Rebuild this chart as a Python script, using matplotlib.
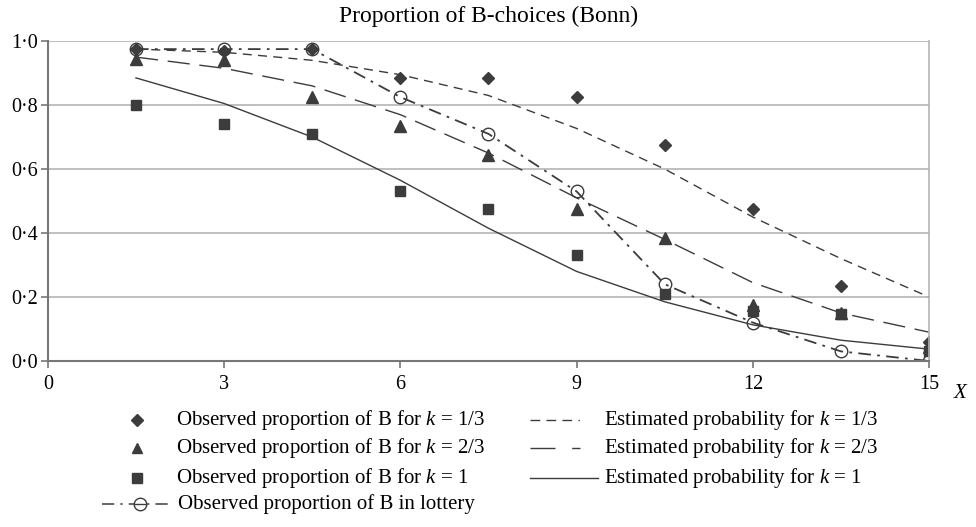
import numpy as np
import matplotlib.pyplot as plt
from matplotlib.lines import Line2D

# valores de X
x = [1.5, 3, 4.5, 6, 7.5, 9, 10.5, 12, 13.5, 15]

# proporciones observadas
obs_k13 = [0.975, 0.97, 0.975, 0.885, 0.885, 0.825, 0.675, 0.475, 0.235, 0.06]
obs_k23 = [0.945, 0.94, 0.825, 0.735, 0.645, 0.475, 0.385, 0.175, 0.15, 0.045]
obs_k1 = [0.80, 0.74, 0.71, 0.53, 0.475, 0.33, 0.21, 0.155, 0.147, 0.03]
obs_lot = [0.975, 0.975, 0.975, 0.825, 0.71, 0.53, 0.24, 0.12, 0.03, 0.0]

# probabilidades estimadas
est_k13 = [0.975, 0.965, 0.94, 0.895, 0.83, 0.727, 0.60, 0.45, 0.32, 0.20]
est_k23 = [0.95, 0.915, 0.86, 0.77, 0.65, 0.51, 0.38, 0.245, 0.15, 0.09]
est_k1 = [0.885, 0.805, 0.70, 0.565, 0.415, 0.28, 0.185, 0.113, 0.065, 0.037]

x_ticks = [0, 3, 6, 9, 12, 15]
y_ticks = [0.0, 0.2, 0.4, 0.6, 0.8, 1.0]
y_labels = ['0·0', '0·2', '0·4', '0·6', '0·8', '1·0']

plt.rcParams['font.family'] = ['Liberation Serif', 'DejaVu Serif']
plt.rcParams['mathtext.fontset'] = 'custom'
plt.rcParams['mathtext.it'] = 'Liberation Serif:italic'
plt.rcParams['mathtext.rm'] = 'Liberation Serif'

oscuro = '#3c3c3c'
gris = '#b4b4b4'

fig = plt.figure(figsize=(9.76, 5.27), dpi=100)
ax = fig.add_axes([0.049, 0.315, 0.903, 0.607])

# lineas estimadas
ax.plot(x, est_k13, color=oscuro, lw=1.0, dashes=(6.5, 4.5))
ax.plot(x, est_k23, color=oscuro, lw=1.0, dashes=(16, 7))
ax.plot(x, est_k1, color=oscuro, lw=1.0)

# observados
ax.plot(x, obs_k13, ls='none', marker='D', ms=6.5, color=oscuro)
ax.plot(x, obs_k23, ls='none', marker='^', ms=8, color=oscuro)
ax.plot(x, obs_k1, ls='none', marker='s', ms=7, color=oscuro)
ax.plot(x, obs_lot, color=oscuro, lw=1.3, dashes=(7, 3.5, 1.5, 3.5),
        marker='o', ms=9, mfc='none', mec=oscuro, mew=1.0)

ax.set_xlim(0, 15)
ax.set_ylim(0, 1.0)
ax.set_xticks(x_ticks)
ax.set_yticks(y_ticks)
ax.set_yticklabels(y_labels)
ax.yaxis.grid(True, color=gris, lw=1.2)
ax.set_axisbelow(True)
ax.tick_params(axis='both', direction='out', color='#777777', length=5,
               width=1.2, labelsize=14.5, pad=5)
ax.tick_params(axis='y', pad=2)
for lado in ['left', 'bottom']:
    ax.spines[lado].set_color('#777777')
    ax.spines[lado].set_linewidth(1.5)
ax.spines['right'].set_color(gris)
ax.spines['right'].set_linewidth(1.2)
ax.spines['top'].set_visible(False)

ax.set_title('Proportion of B-choices (Bonn)', fontsize=17, pad=14)
fig.text(0.984, 0.254, 'X', fontsize=15, style='italic', ha='center', va='center')

# leyenda manual
filas = [0.203, 0.150, 0.093, 0.044]
w, h = 976.0, 527.0
izq = [('D', 6, 'Observed proportion of B for ', '1/3'),
       ('^', 7.5, 'Observed proportion of B for ', '2/3'),
       ('s', 6.5, 'Observed proportion of B for ', '1')]
for (m, s, txt, k), yy in zip(izq, filas):
    fig.add_artist(Line2D([137 / w], [yy], marker=m, ms=s, color=oscuro,
                          ls='none', transform=fig.transFigure))
    fig.text(176 / w, yy, txt + r'$k$' + ' = ' + k, va='center', fontsize=15)

fig.add_artist(Line2D([102 / w, 172 / w], [filas[3]] * 2, color=oscuro, lw=1.1,
                      dashes=(8, 4, 1.5, 4), transform=fig.transFigure))
fig.add_artist(Line2D([140 / w], [filas[3]], marker='o', ms=9, mfc='white',
                      mec=oscuro, ls='none', transform=fig.transFigure))
fig.add_artist(Line2D([135 / w, 145 / w], [filas[3]] * 2, color=oscuro, lw=1.0,
                      transform=fig.transFigure))
fig.text(178 / w, filas[3], 'Observed proportion of B in lottery', va='center',
         fontsize=15)

# patrones de la leyenda derecha
der = [((7, 4.5, 7, 4.5, 7, 4.5, 1, 100), '1/3'),
       ((18, 12, 6, 100), '2/3'),
       (None, '1')]
for (d, k), yy in zip(der, filas):
    ln = Line2D([530 / w, 598 / w], [yy] * 2, color=oscuro, lw=1.0,
                transform=fig.transFigure)
    if d is not None:
        ln.set_dashes(d)
    fig.add_artist(ln)
    fig.text(604 / w, yy, 'Estimated probability for ' + r'$k$' + ' = ' + k,
             va='center', fontsize=15)

fig.savefig('out.png', dpi=100)
